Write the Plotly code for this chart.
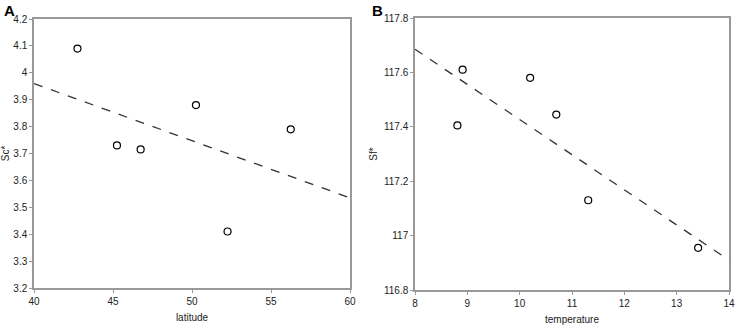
import plotly.graph_objects as go

# Panel A data
lat = [42.75, 45.25, 46.75, 50.25, 52.25, 56.25]
sc = [4.09, 3.73, 3.715, 3.88, 3.41, 3.79]
lat_fit_x = [40, 60]
lat_fit_y = [3.96, 3.535]

# Panel B data
temp = [8.81, 8.91, 10.2, 10.7, 11.31, 13.41]
sf = [117.405, 117.61, 117.58, 117.445, 117.13, 116.955]
temp_fit_x = [8, 14]
temp_fit_y = [117.685, 116.91]

font = dict(family="Liberation Sans", size=10, color="#222")
marker = dict(symbol="circle-open", size=7, color="black", line=dict(width=1.2))
line = dict(color="#333", width=1.3, dash="dash")

fig = go.Figure()
fig.add_trace(go.Scatter(x=lat, y=sc, mode="markers", marker=marker, xaxis="x", yaxis="y"))
fig.add_trace(go.Scatter(x=lat_fit_x, y=lat_fit_y, mode="lines", line=line, xaxis="x", yaxis="y"))
fig.add_trace(go.Scatter(x=temp, y=sf, mode="markers", marker=marker, xaxis="x2", yaxis="y2"))
fig.add_trace(go.Scatter(x=temp_fit_x, y=temp_fit_y, mode="lines", line=line, xaxis="x2", yaxis="y2"))

ax = dict(showgrid=False, zeroline=False, showline=True, mirror=True, linecolor="#999",
          linewidth=1.5, ticks="outside", ticklen=3, tickcolor="#999", tickfont=font,
          automargin=False)

fig.update_layout(
    width=737, height=325, margin=dict(l=0, r=0, t=0, b=0),
    plot_bgcolor="white", paper_bgcolor="white", showlegend=False,
    xaxis=dict(ax, domain=[34/737, 350/737], range=[40, 60], tickvals=[40, 45, 50, 55, 60],
               anchor="y", title=dict(text="latitude", font=font, standoff=8)),
    yaxis=dict(ax, domain=[37/325, 306/325], range=[3.2, 4.2], dtick=0.1, anchor="x",
               title=dict(text="Sc*", font=font, standoff=4)),
    xaxis2=dict(ax, domain=[415/737, 729/737], range=[8, 14], dtick=1, anchor="y2",
                title=dict(text="temperature", font=font, standoff=8)),
    yaxis2=dict(ax, domain=[35/325, 307/325], range=[116.8, 117.8], dtick=0.2, anchor="x2",
                title=dict(text="Sf*", font=font, standoff=4)),
    annotations=[
        dict(text="<b>A</b>", x=2/737, y=1, xref="paper", yref="paper", xanchor="left", yanchor="top",
             showarrow=False, font=dict(family="Liberation Sans", size=15, color="black")),
        dict(text="<b>B</b>", x=370/737, y=1, xref="paper", yref="paper", xanchor="left", yanchor="top",
             showarrow=False, font=dict(family="Liberation Sans", size=15, color="black")),
    ],
)
fig.write_html("out.html", config={"displayModeBar": False},
               post_script="document.body.style.margin='0';document.body.style.overflow='hidden';")
